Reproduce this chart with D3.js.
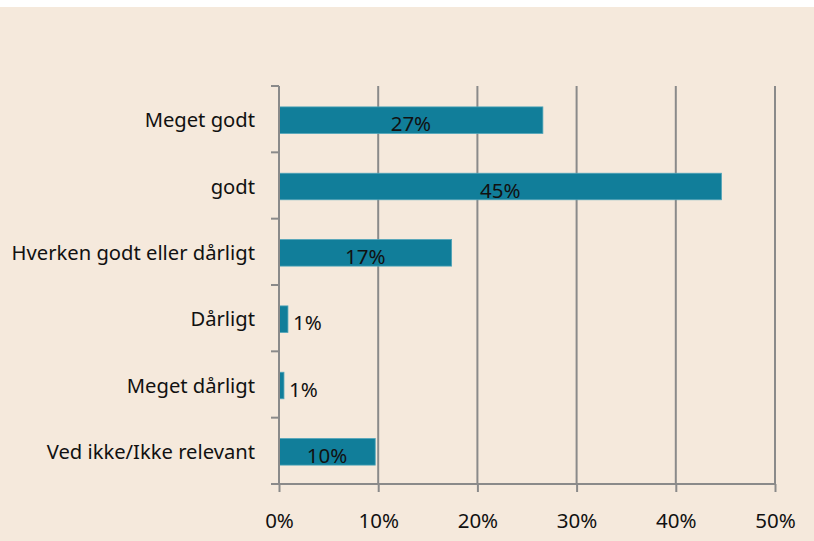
<!DOCTYPE html>
<html>
<head>
<meta charset="utf-8">
<script src="https://cdn.jsdelivr.net/npm/d3@7"></script>
<style>
  html, body { margin: 0; padding: 0; background: #ffffff; }
  #chart svg { display: block; }
  #chart text { font-family: "Noto Sans", "Open Sans", sans-serif; fill: #111; }
</style>
</head>
<body>
<div id="chart"></div>
<script>
// data
const categories = ['Meget godt', 'godt', 'Hverken godt eller dårligt', 'Dårligt', 'Meget dårligt', 'Ved ikke/Ikke relevant'];
const values = [26.6, 44.6, 17.4, 0.9, 0.5, 9.7];
const valueLabels = ['27%', '45%', '17%', '1%', '1%', '10%'];
const xTicks = [0, 10, 20, 30, 40, 50];

const W = 814, H = 541;
const margin = {top: 86, right: 39, bottom: 57, left: 279};
const width = W - margin.left - margin.right;
const height = H - margin.top - margin.bottom;

const svg = d3.select('#chart').append('svg')
  .attr('width', W)
  .attr('height', H);

// panel background
svg.append('rect')
  .attr('x', 0).attr('y', 7)
  .attr('width', W).attr('height', H - 7)
  .style('fill', '#f5e9dc');

const g = svg.append('g')
  .attr('transform', 'translate(' + margin.left + ',' + margin.top + ')');

const x = d3.scaleLinear().domain([0, 50]).range([0, width]);
const y = d3.scaleBand().domain(categories).range([0, height]).paddingInner(0.6).paddingOuter(0.3);

// vertical gridlines
g.selectAll('.grid')
  .data(xTicks.slice(1))
  .enter().append('line')
  .attr('class', 'grid')
  .attr('x1', d => x(d)).attr('x2', d => x(d))
  .attr('y1', 0).attr('y2', height)
  .style('stroke', '#8a8a8a')
  .style('stroke-width', 2);

// bars
g.selectAll('.bar')
  .data(values)
  .enter().append('rect')
  .attr('class', 'bar')
  .attr('x', x(0))
  .attr('y', (d, i) => y(categories[i]) + 1)
  .attr('width', d => x(d))
  .attr('height', y.bandwidth())
  .style('fill', '#117e9a')
  .style('stroke', '#4fa3b8')
  .style('stroke-width', 0.8);

// x axis
const xAxis = d3.axisBottom(x)
  .tickValues(xTicks)
  .tickFormat(d => d + '%')
  .tickSize(8)
  .tickPadding(21);

const xg = g.append('g')
  .attr('transform', 'translate(0,' + height + ')')
  .call(xAxis);
xg.select('.domain').attr('d', 'M-8,0H' + width).style('stroke', '#8a8a8a').style('stroke-width', 2);
xg.selectAll('.tick line').style('stroke', '#8a8a8a').style('stroke-width', 2);
xg.selectAll('.tick text').style('font-size', '20.5px');

// y axis line + ticks at band boundaries
const step = y.step();
const yBounds = d3.range(categories.length + 1).map(i => i * step);
g.append('line')
  .attr('x1', 0).attr('x2', 0)
  .attr('y1', 0).attr('y2', height)
  .style('stroke', '#8a8a8a').style('stroke-width', 2);
g.selectAll('.ytick')
  .data(yBounds)
  .enter().append('line')
  .attr('class', 'ytick')
  .attr('x1', -8).attr('x2', 0)
  .attr('y1', d => d).attr('y2', d => d)
  .style('stroke', '#8a8a8a').style('stroke-width', 2);

// category labels
g.selectAll('.cat')
  .data(categories)
  .enter().append('text')
  .attr('class', 'cat')
  .attr('x', -24)
  .attr('y', d => y(d) + y.bandwidth() / 2 + 1)
  .attr('dy', '0.35em')
  .attr('text-anchor', 'end')
  .style('font-size', '20.2px')
  .text(d => d);

// value labels
const lbl = g.selectAll('.val')
  .data(values)
  .enter().append('text')
  .attr('class', 'val')
  .attr('y', (d, i) => y(categories[i]) + y.bandwidth() / 2 + 5)
  .attr('dy', '0.35em')
  .style('font-size', '20.5px')
  .text((d, i) => valueLabels[i]);

lbl.each(function(d) {
  const t = d3.select(this);
  const w = this.getComputedTextLength();
  if (x(d) > w + 6) {
    t.attr('x', x(d) / 2).attr('text-anchor', 'middle');
  } else {
    t.attr('x', x(d) + 5).attr('text-anchor', 'start');
  }
});
</script>
</body>
</html>
